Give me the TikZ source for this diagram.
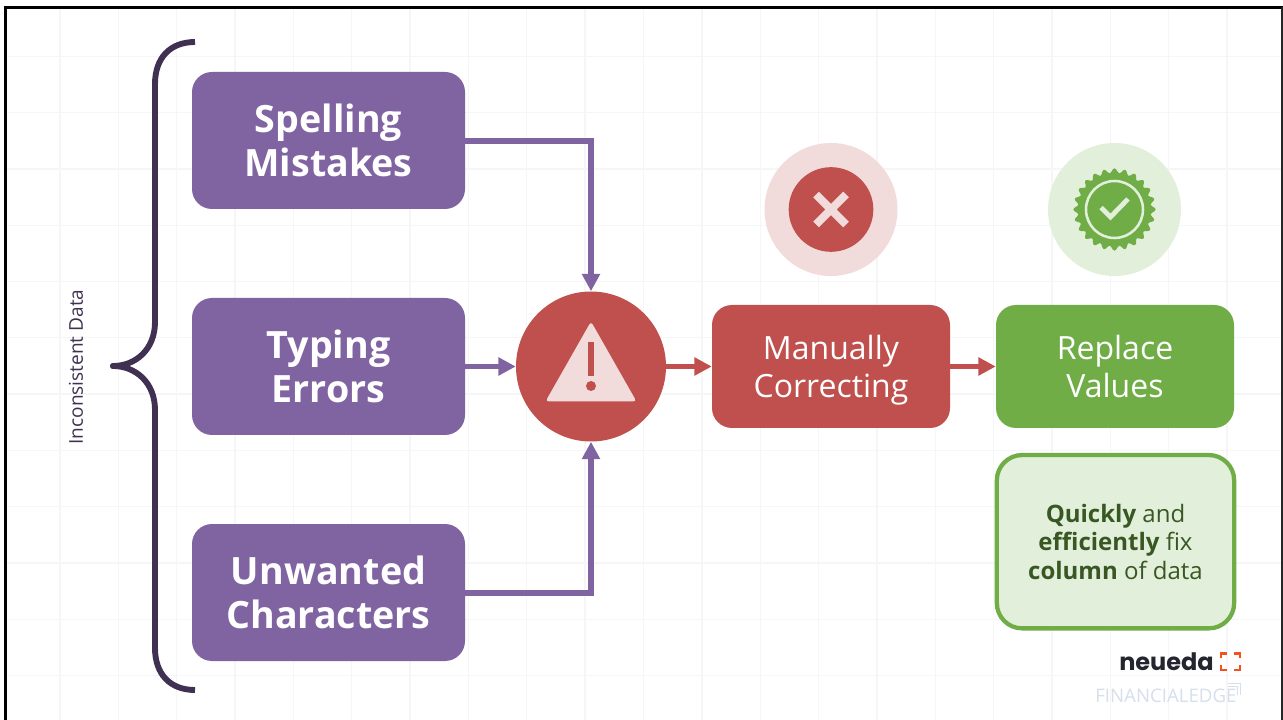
\documentclass[tikz,border=0pt]{standalone}
\usepackage{fontspec}
\setmainfont{Open Sans}
\newfontfamily\logofont{Poppins}
\usetikzlibrary{arrows.meta}
\definecolor{purp}{HTML}{8064A2}
\definecolor{redd}{HTML}{C0504D}
\definecolor{gren}{HTML}{70AD47}
\definecolor{palered}{HTML}{F2DCDB}
\definecolor{palegreen}{HTML}{E2EFDA}
\definecolor{bracec}{HTML}{403152}
\definecolor{gridc}{HTML}{F6F6F8}
\definecolor{dgreen}{HTML}{385723}
\definecolor{logoor}{HTML}{F4511E}
\definecolor{logodk}{HTML}{23262E}
\definecolor{logobl}{HTML}{D5E0EC}
\tikzset{
 purpbox/.style={fill=purp,rounded corners=15pt,minimum width=204.75pt,minimum height=102.75pt,inner sep=0pt,align=center,text=white,font=\fontsize{28.2}{33}\selectfont\bfseries},
 actbox/.style={rounded corners=15pt,minimum width=178.5pt,minimum height=92.25pt,inner sep=0pt,align=center,text=white,font=\fontsize{24}{29}\selectfont},
 purpline/.style={draw=purp,line width=4.4pt,-{Triangle[length=13pt,width=13pt]}},
 redline/.style={draw=redd,line width=4.4pt,-{Triangle[length=13pt,width=13pt]}},
}
\begin{document}
\begin{tikzpicture}[x=0.75pt,y=-0.75pt]
\useasboundingbox (0,0) rectangle (1283,720);
\fill[white] (0,0) rectangle (1283,720);
% grid
\foreach \i in {0,...,20} \draw[gridc,line width=1pt] ({60+58.35*\i},8) -- ({60+58.35*\i},720);
\foreach \i in {0,...,11} \draw[gridc,line width=1pt] (6,{56.3+56.3*\i}) -- (1283,{56.3+56.3*\i});
% frame
\draw[black,line width=2pt] (5.3,720) -- (5.3,7.3) -- (1283,7.3);
\draw[black!85,line width=0.8pt] (1282,7.3) -- (1282,720);
% brace
\draw[bracec,line width=4.4pt,line join=round]
  (195,42) .. controls (170,42) and (155,58) .. (155,84)
  -- (155,322) .. controls (155,350) and (135,366) .. (113,366)
  .. controls (135,366) and (155,382) .. (155,410)
  -- (155,648) .. controls (155,674) and (170,690) .. (195,690);
\fill[bracec] (113,366) circle (3);
\node[rotate=90,text=bracec,font=\fontsize{14.3}{17}\selectfont,inner sep=0pt] (lab) at (76,367) {Inconsistent Data};
% boxes
\node[purpbox] (sp) at (328.5,140.5) {Spelling\\Mistakes};
\node[purpbox] (ty) at (328.5,366.5) {Typing\\Errors};
\node[purpbox] (un) at (328.5,592.5) {Unwanted\\Characters};
\node[circle,fill=redd,minimum size=112.5pt,inner sep=0pt] (warn) at (591,366.5) {};
\node[actbox,fill=redd,text depth=0pt] (man) at (831,366.5) {Manually\\Correcting};
\node[actbox,fill=gren,text depth=0pt] (rep) at (1115,366.5) {Replace\\Values};
\node[draw=gren,line width=3.2pt,fill=palegreen,rounded corners=19pt,minimum width=178pt,minimum height=130pt,inner sep=0pt,align=center,text=dgreen,font=\fontsize{18}{21.3}\selectfont] (note) at (1115.5,541.7) {{\bfseries Quickly} and\\{\bfseries efficiently} fix\\{\bfseries column} of data};
% connectors
\draw[purpline] (sp.east |- 0,141) -| (warn.north);
\draw[purpline] (ty.east) -- (warn.west);
\draw[purpline] (un.east |- 0,593) -| (warn.south);
\draw[redline] (warn.east) -- (man.west);
\draw[redline] (man.east) -- (rep.west);
% warning icon
\fill[palered,rounded corners=2.5pt] (591,321.5) -- (636.5,401.5) -- (545.5,401.5) -- cycle;
\fill[redd] (588,342) rectangle (594,376);
\fill[redd] (591,386) circle (5);
% cross icon
\node[circle,fill=palered,minimum size=99.75pt,inner sep=0pt] (xo) at (831,209.5) {};
\node[circle,fill=redd,minimum size=63.5pt,inner sep=0pt] (xi) at (831,209.5) {};
\draw[palered,line width=6pt] (816,194.5) -- (846,224.5) (846,194.5) -- (816,224.5);
% badge icon
\node[circle,fill=palegreen,minimum size=99.75pt,inner sep=0pt] (go) at (1114.5,209.5) {};
\fill[gren] plot[samples=145,domain=0:360,variable=\a] ({1114.5+(38.8+2.4*cos(24*\a))*cos(\a)},{209.5+(38.8+2.4*cos(24*\a))*sin(\a)}) -- cycle;
\draw[palegreen,line width=1.9pt] (1114.5,209.5) circle (28.5);
\draw[palegreen,line width=3.6pt] (1101,207.5) -- (1110.5,217) -- (1128,199);
% logos
\node[inner sep=0pt,anchor=base west,text=logodk,font=\fontsize{18}{20}\logofont\bfseries] (neu) at (1119,670) {neueda};
\draw[logoor,line width=2pt] (1221,658) -- (1221,653.5) -- (1227,653.5) (1234,653.5) -- (1240,653.5) -- (1240,658) (1240,665) -- (1240,670) -- (1234,670) (1227,670) -- (1221,670) -- (1221,665);
\node[inner sep=0pt,anchor=base west,text=logobl,font=\fontsize{14}{16}\selectfont] (fe) at (1095,702) {FINANCIALEDGE};
\draw[logobl,line width=0.5pt] (1228,683) -- (1240,683) -- (1240,695) (1228,686) -- (1237,686) -- (1237,695);
\end{tikzpicture}
\end{document}
